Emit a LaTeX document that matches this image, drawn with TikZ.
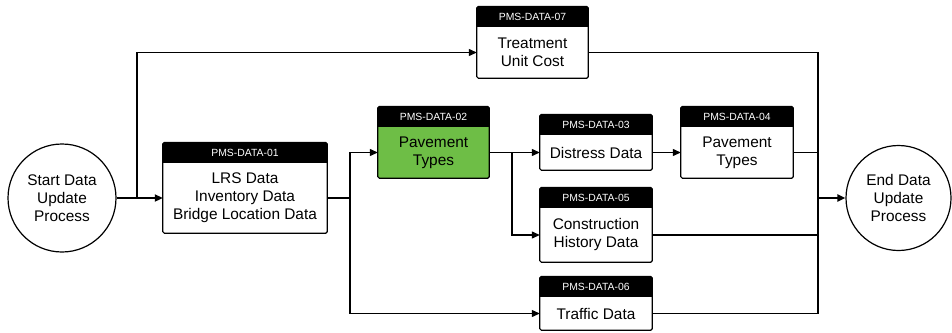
\documentclass[tikz,border=0pt]{standalone}
\usepackage{fontspec}
\setmainfont{Liberation Sans}
\usetikzlibrary{arrows.meta}
\definecolor{pmsgreen}{RGB}{110,190,70}
\tikzset{
  body/.style={inner sep=0pt, align=center, font=\fontsize{15.4}{18}\selectfont},
  head/.style={fill=black, text=white, inner sep=0pt, minimum height=20pt,
               font=\fontsize{10.4}{12}\selectfont},
  frame/.style={draw=black, line width=1.2pt, rounded corners=1.5pt},
  term/.style={circle, draw, line width=1.2pt, align=center, inner sep=0pt,
               font=\fontsize{15.4}{18}\selectfont},
  wire/.style={line width=1.2pt},
  link/.style={wire, -{Triangle[length=8pt,width=7pt]}},
  thick link/.style={link, line width=2pt},
}
% \databox[fill]{name}{left}{top}{right}{bottom}{header}{text}
\newcommand{\databox}[8][white]{%
  \pgfmathsetmacro\dbw{#5-#3}%
  \pgfmathsetmacro\dbh{#6-#4-20}%
  \pgfmathsetmacro\dbx{(#3+#5)/2}%
  \pgfmathsetmacro\dby{(#4+20+#6)/2}%
  \node[body, fill=#1, minimum width=\dbw pt, minimum height=\dbh pt]
    (#2) at (\dbx,\dby) {#8};
  \node[head, minimum width=\dbw pt, anchor=south] (#2h) at (#2.north) {#7};
  \draw[frame] (#2h.north west) rectangle (#2.south east);
}
\begin{document}
\begin{tikzpicture}[x=1pt, y=-1pt]
  \useasboundingbox (0,0) rectangle (952,332);

  % terminals
  \node[term, minimum size=108pt] (start) at (62,198) {Start Data\\Update\\Process};
  \node[term, minimum size=105pt] (end) at (898.5,198) {End Data\\Update\\Process};

  % data boxes
  \databox{b01}{163}{143}{327}{233}{PMS-DATA-01}{LRS Data\\Inventory Data\\Bridge Location Data}
  \databox[pmsgreen]{b02}{378}{107}{489}{178}{PMS-DATA-02}{Pavement\\Types}
  \databox{b03}{540}{115}{652}{170}{PMS-DATA-03}{Distress Data}
  \databox{b04}{681}{107}{793}{178}{PMS-DATA-04}{Pavement\\Types}
  \databox{b05}{540}{188}{652}{262}{PMS-DATA-05}{Construction\\History Data}
  \databox{b06}{540}{277}{652}{330}{PMS-DATA-06}{Traffic Data}
  \databox{b07}{477}{7}{588}{78}{PMS-DATA-07}{Treatment\\Unit Cost}

  % junction and merge points
  \coordinate (j1) at (137,198);
  \coordinate (j2) at (350,198);
  \coordinate (j3) at (512,152.5);
  \coordinate (m) at (818,198);

  % flow out of the start
  \draw[thick link] (start) -- (b01.west);
  \draw[link] (j1) |- (b07.west);

  % inventory branch
  \draw[wire] (b01.east) -- (j2);
  \draw[link] (j2) |- (b02.west);
  \draw[link] (j2) |- (b06.west);

  % pavement branch
  \draw[wire] (b02.east) -- (j3);
  \draw[link] (j3) -- (b03.west);
  \draw[link] (j3) |- (b05.west);
  \draw[link] (b03.east) -- (b04.west);

  % merge into the end
  \draw[wire] (b07.east) -| (b06.east -| m) -- (b06.east);
  \draw[wire] (b04.east) -- (b04.east -| m);
  \draw[wire] (b05.east) -- (b05.east -| m);
  \draw[thick link] (m) -- (end);
\end{tikzpicture}
\end{document}
